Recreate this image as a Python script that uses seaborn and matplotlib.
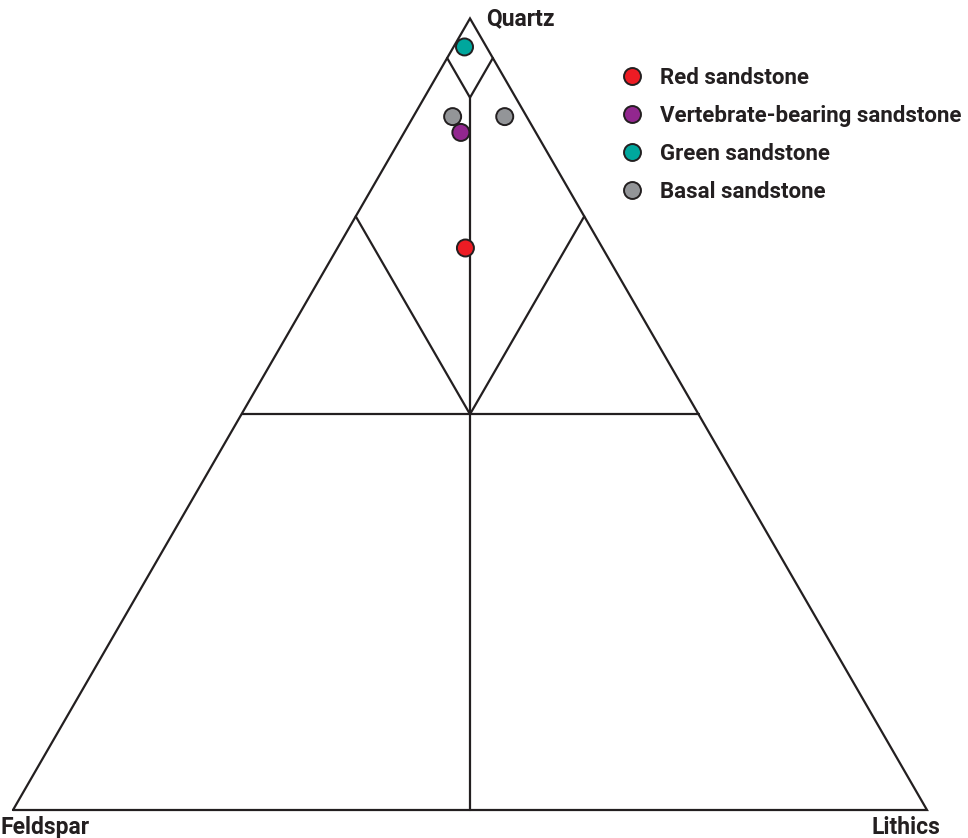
import numpy as np
import pandas as pd
import matplotlib
matplotlib.use("Agg")
import matplotlib.pyplot as plt
from matplotlib.lines import Line2D
import seaborn as sns

# Modal composition (percent) of the sandstone samples
groups = ["Green sandstone", "Basal sandstone", "Basal sandstone",
          "Vertebrate-bearing sandstone", "Red sandstone"]
quartz = [96.4, 87.6, 87.6, 85.6, 71.0]
feldspar = [2.4, 8.1, 2.4, 8.2, 15.0]
lithics = [1.2, 4.3, 10.0, 6.2, 14.0]

legend_order = ["Red sandstone", "Vertebrate-bearing sandstone",
                "Green sandstone", "Basal sandstone"]
colors = ["#ED1C24", "#92278F", "#00A79D", "#939598"]
apex_labels = ["Quartz", "Feldspar", "Lithics"]

INK = "#231F20"
H = np.sqrt(3) / 2


def to_xy(q, f, l):
    """Ternary (Q top, F left, L right) to cartesian coordinates."""
    tot = q + f + l
    q, l = q / tot, l / tot
    return l + q / 2, q * H


sns.set_theme(style="white")
plt.rcParams["font.family"] = ["Roboto", "DejaVu Sans"]

W, Hpx = 968, 838
fig = plt.figure(figsize=(W / 100, Hpx / 100), dpi=100)
ax = fig.add_axes([0, 0, 1, 1])
scale = 914.0
ax.set_xlim(-13 / scale, (W - 13) / scale)
ax.set_ylim(-(Hpx - 810) / scale, 810 / scale)
ax.set_axis_off()

lw = 1.6
# Outer triangle
tri_x = [0, 0.5, 1, 0]
tri_y = [0, H, 0, 0]
ax.plot(tri_x, tri_y, color=INK, lw=lw, solid_joinstyle="miter")

# Classification fields
def seg(a, b):
    (x1, y1), (x2, y2) = to_xy(*a), to_xy(*b)
    ax.plot([x1, x2], [y1, y2], color=INK, lw=lw)

seg((95, 5, 0), (90, 5, 5))
seg((95, 0, 5), (90, 5, 5))
seg((90, 5, 5), (0, 50, 50))
seg((75, 25, 0), (50, 25, 25))
seg((75, 0, 25), (50, 25, 25))
seg((50, 50, 0), (50, 0, 50))

xs, ys = to_xy(np.array(quartz), np.array(feldspar), np.array(lithics))
df = pd.DataFrame({"x": xs, "y": ys, "group": groups})
palette = dict(zip(legend_order, colors))
sns.scatterplot(data=df, x="x", y="y", hue="group", palette=palette,
                s=150, edgecolor=INK, linewidth=1.4, legend=False, ax=ax,
                zorder=5)

# Apex labels
fs = 16.5
ax.text(0.5 + 16 / scale, H, apex_labels[0], ha="left", va="center",
        fontsize=fs, fontweight="bold", color=INK)
ax.text(-13 / scale, -17 / scale, apex_labels[1], ha="left", va="center",
        fontsize=fs, fontweight="bold", color=INK)
ax.text(1 + 13 / scale, -17 / scale, apex_labels[2], ha="right", va="center",
        fontsize=fs, fontweight="bold", color=INK)

handles = [Line2D([0], [0], marker="o", linestyle="", markersize=12.2,
                  markerfacecolor=c, markeredgecolor=INK, markeredgewidth=1.4)
           for c in colors]
leg = fig.legend(handles, legend_order, loc="upper left",
                 bbox_to_anchor=(608 / W, 1 - 56 / Hpx), frameon=False,
                 prop={"size": 16, "weight": "bold"}, labelspacing=0.72,
                 handletextpad=0.62, handlelength=1.2, borderpad=0)
for t in leg.get_texts():
    t.set_color(INK)

fig.savefig("out.png", dpi=100)
